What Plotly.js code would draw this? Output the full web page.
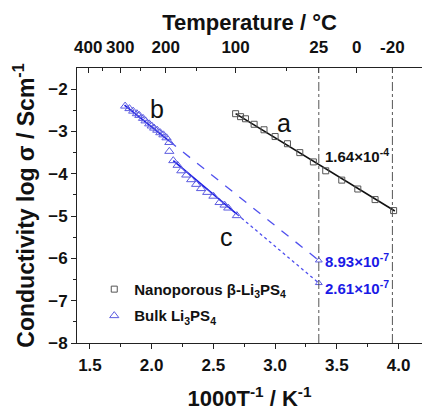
<!DOCTYPE html>
<html><head><meta charset="utf-8">
<script src="https://cdn.plot.ly/plotly-3.0.1.min.js"></script>
<style>html,body{margin:0;padding:0;background:#fff}#c{width:429px;height:412px}</style>
</head><body><div id="c"></div>
<script>
// Top axis temperatures (°C)
const tempLabels = [400, 300, 200, 100, 25, 0, -20];
const tempMinor = [350, 250, 150, 50];
const refTemps = [25, -20];

// Nanoporous beta-Li3PS4 (a)
const nanoX = [2.68, 2.72, 2.76, 2.83, 2.91, 3.00, 3.10, 3.20, 3.31, 3.41, 3.54, 3.67, 3.81, 3.96];
const nanoY = [-2.58, -2.65, -2.70, -2.83, -2.96, -3.12, -3.29, -3.50, -3.72, -3.93, -4.15, -4.36, -4.61, -4.87];

// Bulk Li3PS4 (b, c)
const bulkX = [1.785, 1.82, 1.85, 1.88, 1.90, 1.93, 1.95, 1.98, 2.00, 2.02, 2.045, 2.07, 2.095, 2.12, 2.143, 2.143, 2.175, 2.21, 2.24, 2.28, 2.32, 2.36, 2.40, 2.45, 2.50, 2.55, 2.59, 2.62, 2.69];
const bulkY = [-2.40, -2.46, -2.52, -2.58, -2.62, -2.69, -2.75, -2.82, -2.87, -2.92, -2.97, -3.03, -3.08, -3.15, -3.26, -3.47, -3.69, -3.80, -3.93, -4.03, -4.14, -4.25, -4.35, -4.44, -4.53, -4.68, -4.74, -4.81, -4.99];

// Extrapolated room-temperature values
const extrapX = [3.354, 3.354];
const extrapY = [-6.049, -6.583];

// Linear fits
const fitAX = [2.68, 3.97], fitAY = [-2.58, -4.88];
const fitBX = [1.78, 2.14], fitBY = [-2.38, -3.22];
const extBX = [2.14, 3.354], extBY = [-3.22, -6.049];
const fitCX = [2.175, 2.69], fitCY = [-3.69, -4.955];
const extCX = [2.69, 3.354], extCY = [-4.955, -6.583];

const invT = t => 1000 / (t + 273.15);
const FONT = 'Liberation Sans, Arial, sans-serif';
const BLUE = '#1a1ae6', LBLUE = '#5050ee', TRI = '#5c5ce0';

const traces = [
  {x: fitAX, y: fitAY, mode: 'lines', line: {color: '#111', width: 1.6}, showlegend: false, hoverinfo: 'skip'},
  {x: fitBX, y: fitBY, mode: 'lines', line: {color: BLUE, width: 1.6}, showlegend: false, hoverinfo: 'skip'},
  {x: extBX, y: extBY, mode: 'lines', line: {color: LBLUE, width: 1.3, dash: 'dash'}, showlegend: false, hoverinfo: 'skip'},
  {x: fitCX, y: fitCY, mode: 'lines', line: {color: BLUE, width: 1.6}, showlegend: false, hoverinfo: 'skip'},
  {x: extCX, y: extCY, mode: 'lines', line: {color: LBLUE, width: 1.3, dash: 'dot'}, showlegend: false, hoverinfo: 'skip'},
  {x: nanoX, y: nanoY, mode: 'markers', name: 'Nanoporous β-Li<sub>3</sub>PS<sub>4</sub>', legendgroup: 'g1',
   marker: {symbol: 'square-open', size: 6, color: '#555', line: {width: 1}}},
  {x: bulkX, y: bulkY, mode: 'markers', name: 'Bulk Li<sub>3</sub>PS<sub>4</sub>', legendgroup: 'g2',
   marker: {symbol: 'triangle-up-open', size: 8, color: TRI, line: {width: 1}}},
  {x: extrapX, y: extrapY, mode: 'markers', showlegend: false,
   marker: {symbol: 'triangle-up-open', size: 6, color: TRI, line: {width: 1}}},
  {x: tempLabels.map(invT), y: tempLabels.map(() => null), xaxis: 'x2', mode: 'markers', showlegend: false, hoverinfo: 'skip'}
];

const xr = [1.395, 4.19];
const tickFont = {family: FONT, size: 17, color: '#111', weight: 'bold'};
const titleFont = {family: FONT, size: 22, color: '#111', weight: 'bold'};

const layout = {
  width: 429, height: 412,
  margin: {l: 77, r: 7, t: 68, b: 69},
  paper_bgcolor: '#fff', plot_bgcolor: '#fff',
  showlegend: true,
  legend: {x: 0.05, y: 0.255, xanchor: 'left', yanchor: 'top', bgcolor: 'rgba(0,0,0,0)',
           font: {family: FONT, size: 15, color: '#111', weight: 'bold'}, traceorder: 'grouped', tracegroupgap: 4, itemwidth: 30},
  xaxis: {range: xr, tickvals: [1.5, 2.0, 2.5, 3.0, 3.5, 4.0], ticktext: ['1.5','2.0','2.5','3.0','3.5','4.0'],
          ticks: 'outside', ticklen: 5, tickwidth: 1, tickcolor: '#222', ticklabelstandoff: 2,
          minor: {tickvals: [1.75, 2.25, 2.75, 3.25, 3.75], ticks: 'outside', ticklen: 3, tickcolor: '#222'},
          showline: true, linecolor: '#222', linewidth: 1, showgrid: false, zeroline: false,
          tickfont: tickFont,
          title: {text: '1000T<sup>-1</sup> / K<sup>-1</sup>', font: titleFont, standoff: 16}},
  xaxis2: {range: xr, overlaying: 'x', side: 'top', anchor: 'y',
           tickvals: tempLabels.map(invT), ticktext: tempLabels.map(String),
           ticks: 'inside', ticklen: 5, tickwidth: 1, tickcolor: '#222', ticklabelstandoff: 7,
           minor: {tickvals: tempMinor.map(invT), ticks: 'inside', ticklen: 3, tickcolor: '#222'},
           showline: true, linecolor: '#222', linewidth: 1, showgrid: false, zeroline: false,
           tickfont: tickFont,
           title: {text: 'Temperature / °C', font: titleFont, standoff: 1}},
  yaxis: {range: [-8, -1.5], tickvals: [-8, -7, -6, -5, -4, -3, -2],
          ticks: 'outside', ticklen: 5, tickwidth: 1, tickcolor: '#222',
          minor: {tickvals: [-7.5, -6.5, -5.5, -4.5, -3.5, -2.5], ticks: 'outside', ticklen: 3, tickcolor: '#222'},
          showline: true, linecolor: '#222', linewidth: 1, showgrid: false, zeroline: false,
          tickfont: tickFont,
          title: {text: 'Conductivity log σ / Scm<sup>-1</sup>', font: {family: FONT, size: 23, color: '#111', weight: 'bold'}, standoff: 7}},
  shapes: refTemps.map(t => ({type: 'line', xref: 'x', yref: 'paper', x0: invT(t), x1: invT(t), y0: 0, y1: 1,
                               line: {color: '#555', width: 1, dash: 'dashdot'}})),
  annotations: [
    {x: 3.07, y: -2.8, text: 'a', showarrow: false, font: {family: FONT, size: 25, color: '#111'}},
    {x: 2.04, y: -2.47, text: 'b', showarrow: false, font: {family: FONT, size: 25, color: '#111'}},
    {x: 2.61, y: -5.5, text: 'c', showarrow: false, font: {family: FONT, size: 25, color: '#111'}},
    {x: 3.39, y: -3.56, xanchor: 'left', text: '1.64×10<sup>-4</sup>', showarrow: false,
     font: {family: FONT, size: 15, color: '#111', weight: 'bold'}},
    {x: 3.39, y: -6.06, xanchor: 'left', text: '8.93×10<sup>-7</sup>', showarrow: false,
     font: {family: FONT, size: 15, color: BLUE, weight: 'bold'}},
    {x: 3.39, y: -6.68, xanchor: 'left', text: '2.61×10<sup>-7</sup>', showarrow: false,
     font: {family: FONT, size: 15, color: BLUE, weight: 'bold'}}
  ]
};

Plotly.newPlot('c', traces, layout, {displayModeBar: false, staticPlot: true});
</script></body></html>
